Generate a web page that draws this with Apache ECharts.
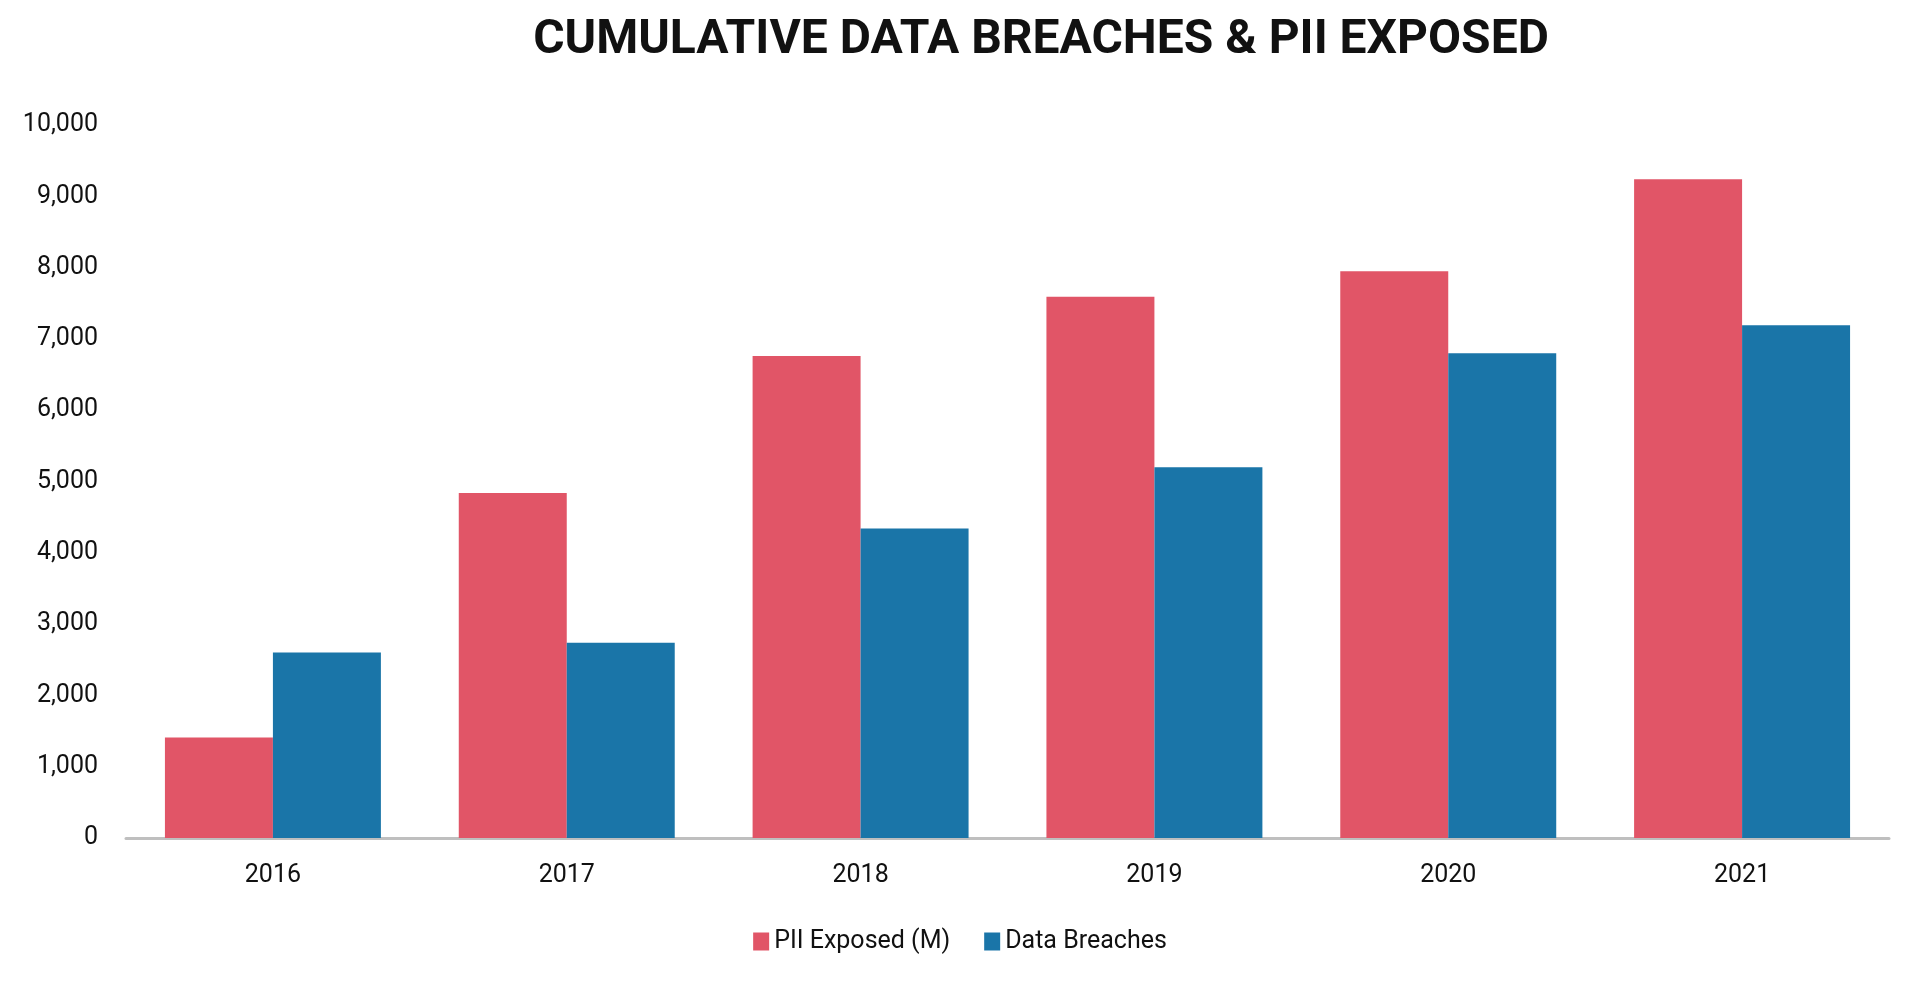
<!DOCTYPE html>
<html>
<head>
    <meta charset="utf-8">
    <script src="https://cdn.jsdelivr.net/npm/echarts@6/dist/echarts.min.js"></script>
    <style>
        html, body { margin: 0; padding: 0; background: #fff; }
        #main { width: 1920px; height: 983px; }
    </style>
</head>
<body>
    <div id="main"></div>
    <script type="text/javascript">
        var years = ['2016', '2017', '2018', '2019', '2020', '2021'];
        var piiExposed = [1410, 4840, 6760, 7590, 7950, 9240];
        var dataBreaches = [2600, 2740, 4340, 5200, 6800, 7190];
        var yTicks = [0, 1000, 2000, 3000, 4000, 5000, 6000, 7000, 8000, 9000, 10000];

        var font = 'Roboto, "Noto Sans", sans-serif';

        var myChart = echarts.init(document.getElementById('main'));
        var option = {
            animation: false,
            backgroundColor: '#ffffff',
            title: {
                text: 'CUMULATIVE DATA BREACHES & PII EXPOSED',
                left: 1036,
                top: 12,
                textAlign: 'center',
                textStyle: {
                    fontFamily: font,
                    fontWeight: 'bold',
                    fontSize: 48,
                    color: '#111111'
                }
            },
            legend: {
                top: 924,
                left: 'center',
                itemWidth: 16,
                itemHeight: 18,
                itemGap: 34,
                icon: 'rect',
                textStyle: {
                    fontFamily: font,
                    fontSize: 25,
                    color: '#111111'
                },
                data: ['PII Exposed (M)', 'Data Breaches']
            },
            grid: {
                left: 126,
                right: 31,
                top: 125,
                bottom: 145,
                containLabel: false
            },
            xAxis: {
                type: 'category',
                data: years,
                axisLine: { lineStyle: { color: '#bfbfbf', width: 3 } },
                axisTick: { show: false },
                axisLabel: {
                    fontFamily: font,
                    fontSize: 25,
                    color: '#111111',
                    margin: 25
                }
            },
            yAxis: {
                type: 'value',
                min: yTicks[0],
                max: yTicks[yTicks.length - 1],
                interval: 1000,
                splitLine: { show: false },
                axisLine: { show: false },
                axisTick: { show: false },
                axisLabel: {
                    fontFamily: font,
                    fontSize: 25,
                    color: '#111111',
                    margin: 28,
                    formatter: function (v) {
                        return v.toLocaleString('en-US');
                    }
                }
            },
            series: [
                {
                    name: 'PII Exposed (M)',
                    type: 'bar',
                    data: piiExposed,
                    barGap: '0%',
                    barCategoryGap: '26.5%',
                    itemStyle: { color: '#e15567' }
                },
                {
                    name: 'Data Breaches',
                    type: 'bar',
                    data: dataBreaches,
                    barGap: '0%',
                    barCategoryGap: '26.5%',
                    itemStyle: { color: '#1a75a8' }
                }
            ]
        };
        myChart.setOption(option);
    </script>
</body>
</html>
